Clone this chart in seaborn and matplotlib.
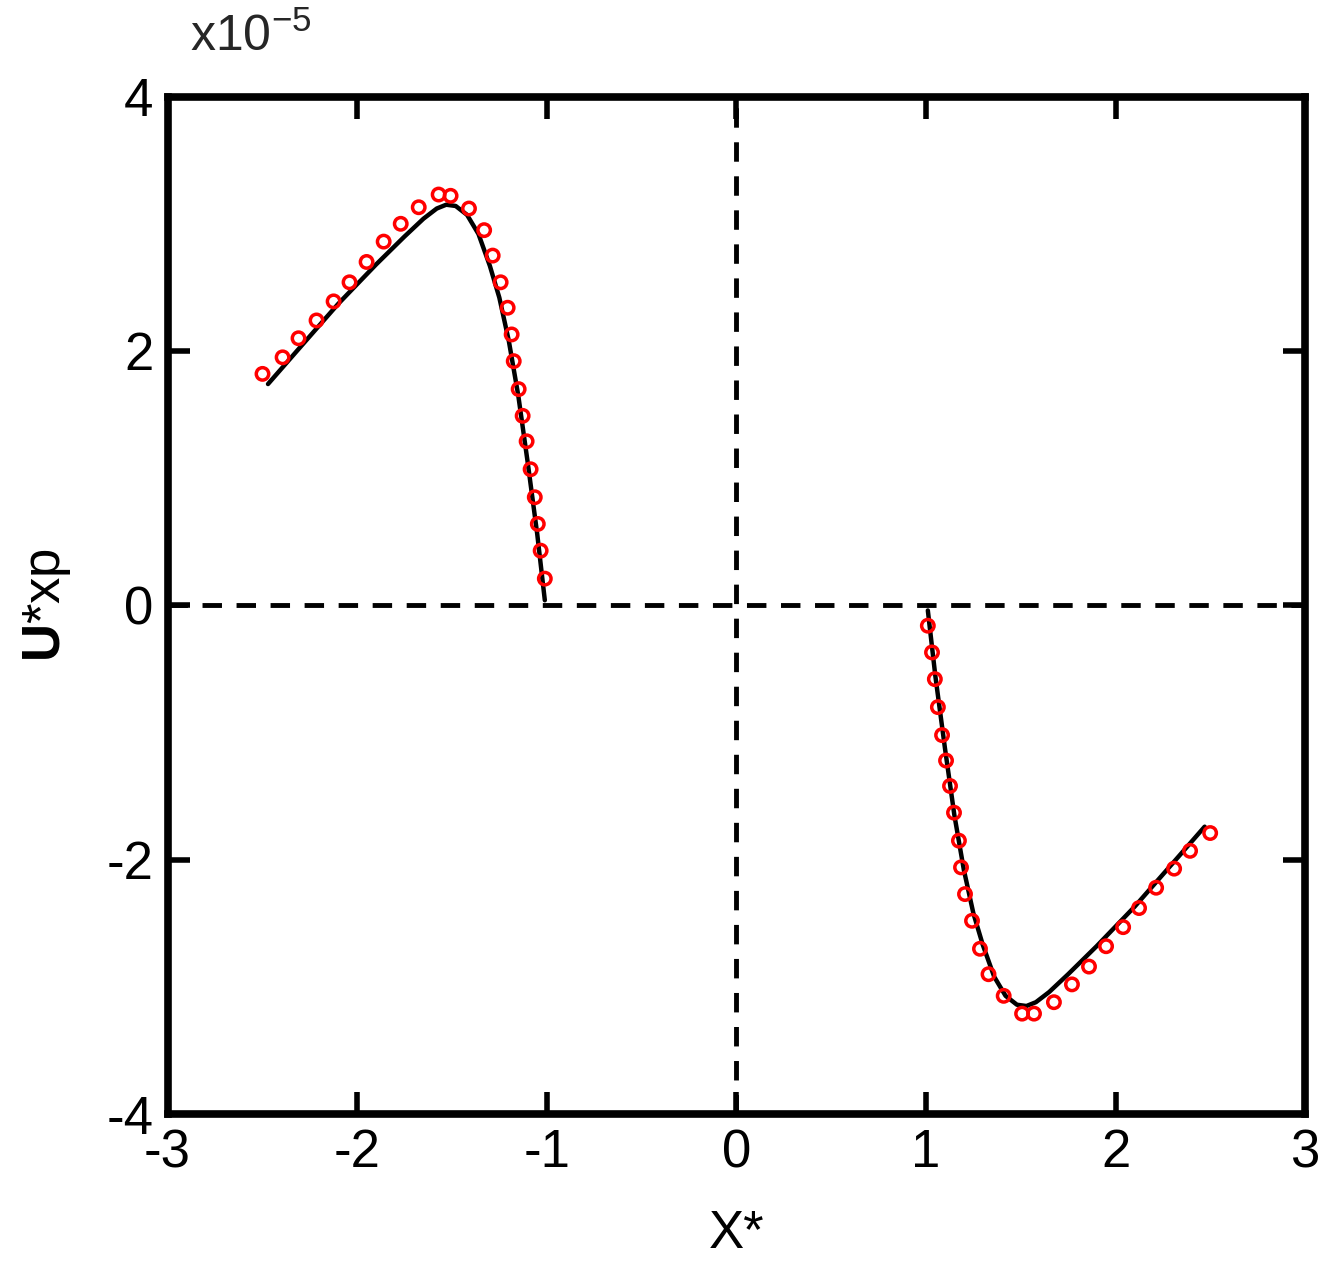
import matplotlib
matplotlib.use("Agg")
import matplotlib.pyplot as plt
import seaborn as sns
import pandas as pd

sns.set_theme(style="ticks")
plt.rcParams["font.family"] = ["Liberation Sans", "DejaVu Sans"]
plt.rcParams["mathtext.fontset"] = "custom"
plt.rcParams["mathtext.rm"] = "Liberation Sans"
plt.rcParams["mathtext.bf"] = "Liberation Sans:bold"

# symbols (values in units of 1e-5)
left_x = [-2.499, -2.393, -2.309, -2.214, -2.124, -2.04, -1.95, -1.86, -1.77, -1.675,
          -1.57, -1.507, -1.41, -1.33, -1.285, -1.243, -1.206, -1.185, -1.174, -1.148,
          -1.127, -1.106, -1.085, -1.063, -1.047, -1.032, -1.01]
left_y = [1.82, 1.95, 2.10, 2.24, 2.39, 2.54, 2.70, 2.86, 3.00, 3.13,
          3.23, 3.22, 3.12, 2.95, 2.75, 2.54, 2.34, 2.13, 1.92, 1.70,
          1.49, 1.29, 1.07, 0.85, 0.64, 0.43, 0.21]
right_x = [1.01, 1.032, 1.047, 1.063, 1.085, 1.106, 1.127, 1.148, 1.174, 1.185,
           1.206, 1.243, 1.285, 1.33, 1.41, 1.507, 1.57, 1.675, 1.77, 1.86,
           1.95, 2.04, 2.124, 2.214, 2.309, 2.393, 2.499]
right_y = [-0.16, -0.37, -0.58, -0.80, -1.02, -1.22, -1.42, -1.63, -1.85, -2.06,
           -2.27, -2.48, -2.70, -2.90, -3.07, -3.21, -3.21, -3.12, -2.98, -2.84,
           -2.68, -2.53, -2.38, -2.22, -2.07, -1.93, -1.79]

# model curve
line_lx = [-2.47, -2.3, -2.1, -1.9, -1.75, -1.65, -1.58, -1.53, -1.48, -1.42, -1.36,
           -1.3, -1.25, -1.2, -1.15, -1.1, -1.05, -1.01]
line_ly = [1.74, 2.03, 2.37, 2.68, 2.90, 3.04, 3.12, 3.15, 3.14, 3.07, 2.92,
           2.67, 2.42, 2.08, 1.65, 1.12, 0.56, 0.04]
line_rx = [1.01, 1.05, 1.1, 1.15, 1.2, 1.25, 1.3, 1.36, 1.42, 1.48, 1.53, 1.58,
           1.65, 1.75, 1.9, 2.1, 2.3, 2.47]
line_ry = [-0.04, -0.56, -1.12, -1.65, -2.08, -2.42, -2.67, -2.92, -3.07, -3.14, -3.15,
           -3.12, -3.04, -2.90, -2.68, -2.37, -2.03, -1.74]

pts = pd.DataFrame({"x": left_x + right_x, "y": left_y + right_y})

fig = plt.figure(figsize=(13.4, 12.88), dpi=100)
ax = fig.add_axes([0.125, 0.135, 0.849, 0.79])

ax.axhline(0, color="black", lw=3.5, ls=(0, (4, 3)), zorder=1)
ax.axvline(0, color="black", lw=3.5, ls=(0, (4, 3)), zorder=1)
sns.lineplot(x=line_lx, y=line_ly, color="black", lw=3.2, ax=ax, sort=False)
sns.lineplot(x=line_rx, y=line_ry, color="black", lw=3.2, ax=ax, sort=False)
ax.scatter(pts["x"], pts["y"], s=80, facecolors="none", edgecolors="red", linewidths=2.5, zorder=3)

ax.set_xlim(-3, 3)
ax.set_ylim(-4, 4)
ax.set_xticks([-3, -2, -1, 0, 1, 2, 3])
ax.set_yticks([-4, -2, 0, 2, 4])
ax.set_xticklabels(["-3", "-2", "-1", "0", "1", "2", "3"])
ax.set_yticklabels(["-4", "-2", "0", "2", "4"])
ax.tick_params(direction="in", length=16, width=4, labelsize=38, top=True, right=True,
               pad=10, color="black", labelcolor="black")
for s in ax.spines.values():
    s.set_linewidth(5.5)
    s.set_color("black")
ax.set_xlabel("X*", fontsize=38, labelpad=22, color="black")
ax.set_ylabel(r"$\mathbf{U}$*xp", fontsize=38, labelpad=24, color="black")
ax.text(0.02, 1.035, r"x10$^{-5}$", transform=ax.transAxes, fontsize=36, va="bottom")

plt.savefig("out.png", dpi=100)
